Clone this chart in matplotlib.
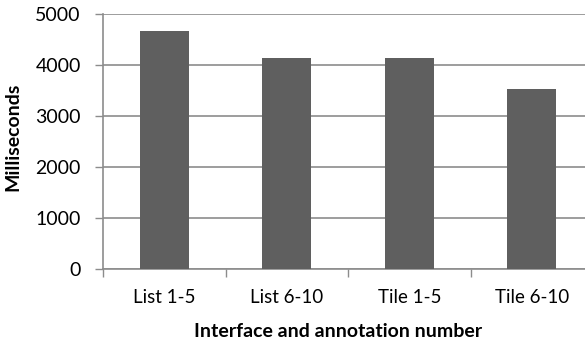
import numpy as np
import matplotlib.pyplot as plt
from matplotlib.ticker import FixedLocator

# values
labels = ["List 1-5", "List 6-10", "Tile 1-5", "Tile 6-10"]
times = [4670, 4140, 4130, 3525]
yticks = [0, 1000, 2000, 3000, 4000, 5000]

plt.rcParams['font.family'] = ['Lato', 'DejaVu Sans']

fig = plt.figure(figsize=(5.85, 3.45), dpi=100)
ax = fig.add_axes([103 / 585, 76 / 345, 490 / 585, 255 / 345])

x = np.arange(len(labels))
ax.bar(x, times, width=0.4, color="#5f5f5f", zorder=3)

ax.set_xlim(-0.5, len(labels) - 0.5)
ax.set_ylim(0, 5000)
ax.set_yticks(yticks)
ax.yaxis.grid(True, color="#8c8c8c", linewidth=1.2, zorder=0)

# category boundary ticks, labels in the middle
ax.xaxis.set_major_locator(FixedLocator(np.arange(-0.5, len(labels), 1.0)))
ax.xaxis.set_minor_locator(FixedLocator(x))
ax.set_xticklabels([])
ax.set_xticklabels(labels, minor=True)
ax.tick_params(axis="x", which="major", length=6, color="#8c8c8c", width=1)
ax.tick_params(axis="x", which="minor", length=0, pad=14.5, labelsize=13.5)
ax.tick_params(axis="y", length=6, color="#8c8c8c", width=1, pad=10, labelsize=14)

for s in ["top", "right"]:
    ax.spines[s].set_visible(False)
for s in ["left", "bottom"]:
    ax.spines[s].set_color("#8c8c8c")
    ax.spines[s].set_linewidth(1.2)

ax.set_xlabel("Interface and annotation number", fontsize=14, fontweight="bold", labelpad=12)
ax.set_ylabel("Milliseconds", fontsize=14, fontweight="bold", labelpad=10)
ax.xaxis.label.set_x(0.48)
ax.yaxis.label.set_y(0.52)

fig.savefig("out.png", dpi=100)
